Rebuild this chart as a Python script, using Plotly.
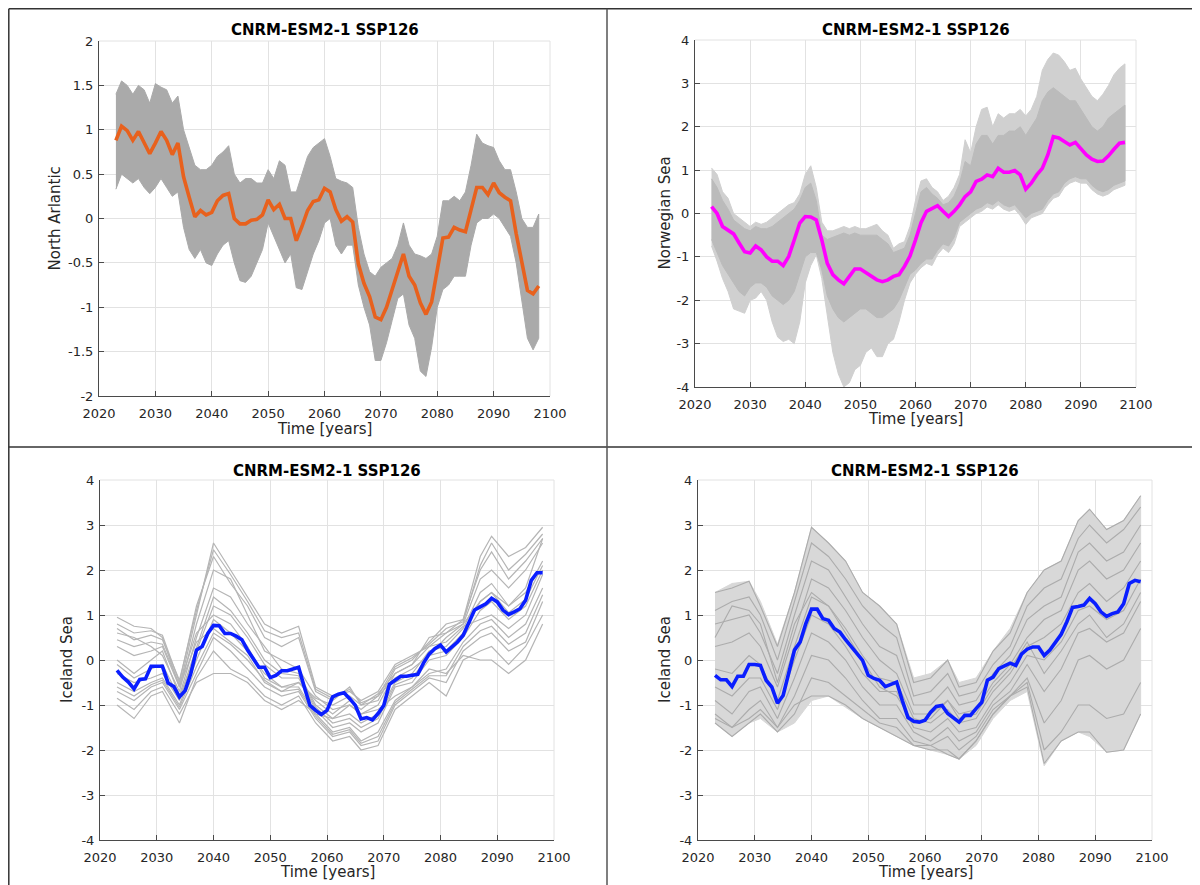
import plotly.graph_objects as go

# ---------------- data ----------------
years = list(range(2023, 2099))
x_ticks = [2020, 2030, 2040, 2050, 2060, 2070, 2080, 2090, 2100]
x_ticktext = ["2020", "2030", "2040", "2050", "2060", "2070", "2080", "2090", "2100"]
y_ticks_na = [-2, -1.5, -1, -0.5, 0, 0.5, 1, 1.5, 2]
y_ticktext_na = ["-2", "-1.5", "-1", "-0.5", "0", "0.5", "1", "1.5", "2"]
y_ticks_4 = [-4, -3, -2, -1, 0, 1, 2, 3, 4]
y_ticktext_4 = ["-4", "-3", "-2", "-1", "0", "1", "2", "3", "4"]

title_text = "CNRM-ESM2-1 SSP126"
x_label = "Time [years]"
y_labels = ["North Arlantic", "Norwegian Sea", "Iceland Sea", "Iceland Sea"]

# North Atlantic (top-left)
na_mean = [0.88, 1.04, 0.99, 0.88, 0.98, 0.86, 0.73, 0.85, 0.98, 0.88,
           0.72, 0.85, 0.47, 0.24, 0.02, 0.09, 0.04, 0.07, 0.2, 0.26,
           0.28, 0.0, -0.06, -0.06, -0.02, -0.01, 0.04, 0.21, 0.10, 0.16,
           0.0, 0.0, -0.25, -0.09, 0.09, 0.19, 0.21, 0.34, 0.30, 0.10,
           -0.03, 0.02, -0.04, -0.51, -0.73, -0.88, -1.11, -1.14, -1.0, -0.8,
           -0.6, -0.4, -0.65, -0.75, -0.95, -1.08, -0.94, -0.55, -0.22, -0.21,
           -0.1, -0.13, -0.15, 0.1, 0.35, 0.35, 0.27, 0.40, 0.29, 0.24,
           0.2, -0.17, -0.47, -0.81, -0.85, -0.76]
na_hi = [1.4, 1.55, 1.5, 1.4, 1.5, 1.45, 1.3, 1.52, 1.48, 1.45,
         1.3, 1.38, 1.0, 0.8, 0.6, 0.55, 0.55, 0.6, 0.7, 0.75,
         0.82, 0.5, 0.4, 0.45, 0.45, 0.4, 0.4, 0.55, 0.45, 0.65,
         0.6, 0.3, 0.3, 0.5, 0.7, 0.8, 0.85, 0.9, 0.7, 0.45,
         0.42, 0.4, 0.35, -0.1, -0.4, -0.6, -0.65, -0.55, -0.5, -0.45,
         -0.3, -0.05, -0.3, -0.4, -0.42, -0.45, -0.4, -0.2, 0.2, 0.2,
         0.25, 0.2, 0.3, 0.6, 0.95, 0.85, 0.82, 0.8, 0.65, 0.55,
         0.55, 0.3, 0.0, -0.1, -0.1, 0.05]
na_lo = [0.33, 0.5, 0.45, 0.4, 0.45, 0.35, 0.28, 0.35, 0.45, 0.35,
         0.25, 0.3, -0.1, -0.35, -0.45, -0.35, -0.5, -0.53, -0.4, -0.3,
         -0.25, -0.5, -0.7, -0.72, -0.65, -0.5, -0.35, -0.05, -0.2, -0.35,
         -0.5, -0.4, -0.78, -0.8, -0.6, -0.4, -0.25, -0.05, 0.0, -0.3,
         -0.4, -0.3, -0.3, -0.75, -1.0, -1.2, -1.6, -1.6, -1.4, -1.15,
         -0.9, -0.85, -1.2, -1.35, -1.72, -1.78, -1.45, -1.0, -0.8, -0.75,
         -0.65, -0.65, -0.65, -0.3, -0.05, 0.0, 0.0, 0.05, 0.0, -0.1,
         -0.2, -0.5, -0.9, -1.35, -1.48, -1.35]

# Norwegian Sea (top-right)
ns_mean = [0.16, 0.0, -0.3, -0.39, -0.47, -0.68, -0.88, -0.91, -0.75, -0.84,
           -1.0, -1.1, -1.1, -1.2, -0.99, -0.61, -0.22, -0.07, -0.08, -0.15,
           -0.61, -1.15, -1.41, -1.53, -1.62, -1.45, -1.28, -1.28, -1.36, -1.44,
           -1.53, -1.57, -1.53, -1.45, -1.41, -1.22, -0.98, -0.61, -0.21, 0.05,
           0.12, 0.18, 0.05, -0.07, 0.05, 0.2, 0.39, 0.5, 0.74, 0.79,
           0.89, 0.85, 1.04, 0.95, 0.95, 0.99, 0.89, 0.56, 0.70, 0.89,
           1.04, 1.35, 1.77, 1.74, 1.66, 1.58, 1.64, 1.48, 1.35, 1.25,
           1.2, 1.21, 1.33, 1.48, 1.62, 1.64]
ns_hi = [1.05, 0.9, 0.5, 0.35, 0.0, -0.1, -0.2, -0.3, -0.2, -0.25,
         -0.2, -0.1, 0.0, 0.1, 0.2, 0.25, 0.45, 0.9, 1.1, 0.6,
         -0.2, -0.4, -0.4, -0.35, -0.3, -0.35, -0.3, -0.35, -0.35, -0.3,
         -0.25, -0.4, -0.5, -0.8, -0.7, -0.65, -0.3, 0.3, 0.75, 0.8,
         0.6, 0.5, 0.3, 0.4, 0.6, 0.9, 1.7, 1.4, 2.0, 2.4,
         2.45, 2.0, 2.3, 2.2, 2.3, 2.3, 2.4, 2.25, 2.4, 2.7,
         3.3, 3.55, 3.7, 3.65, 3.5, 3.3, 3.35, 3.1, 2.9, 2.7,
         2.6, 2.75, 2.95, 3.2, 3.35, 3.45]
ns_lo = [-0.75, -1.1, -1.5, -1.8, -2.2, -2.25, -2.3, -2.0, -1.95, -1.8,
         -2.0, -2.5, -2.85, -2.95, -2.9, -3.0, -2.5, -1.6, -1.2, -0.95,
         -1.5, -2.4, -3.2, -3.7, -4.0, -3.9, -3.6, -3.5, -3.2, -3.1,
         -3.3, -3.3, -3.0, -2.9, -2.5, -2.0, -1.6, -1.4, -1.25, -1.15,
         -1.2, -0.95, -0.8, -0.9, -0.7, -0.3, -0.2, -0.1, 0.0, 0.05,
         0.15, 0.1, 0.2, 0.1, 0.05, 0.1, -0.05, -0.25, -0.1, -0.05,
         0.0, 0.2, 0.35, 0.4, 0.6, 0.7, 0.75, 0.7, 0.7, 0.55,
         0.45, 0.4, 0.45, 0.55, 0.6, 0.65]
ns_hi_dense = [0.8, 0.6, 0.3, 0.1, -0.15, -0.25, -0.35, -0.4, -0.3, -0.35,
               -0.35, -0.3, -0.2, -0.1, 0.0, 0.1, 0.3, 0.6, 0.7, 0.3,
               -0.5, -0.6, -0.55, -0.5, -0.45, -0.5, -0.45, -0.5, -0.5, -0.5,
               -0.5, -0.6, -0.7, -0.9, -0.85, -0.8, -0.5, 0.0, 0.5, 0.6,
               0.45, 0.35, 0.2, 0.25, 0.4, 0.7, 1.2, 1.1, 1.6, 1.8,
               1.8, 1.6, 1.8, 1.8, 1.9, 1.9, 2.0, 1.8, 2.0, 2.2,
               2.6, 2.8, 2.9, 2.8, 2.7, 2.6, 2.6, 2.4, 2.2, 2.0,
               1.9, 2.0, 2.2, 2.3, 2.4, 2.5]
ns_lo_dense = [-0.6, -0.9, -1.2, -1.4, -1.6, -1.8, -1.9, -1.7, -1.6, -1.6,
               -1.7, -1.9, -2.0, -2.1, -2.0, -1.8, -1.4, -1.0, -0.9, -0.9,
               -1.3, -1.9, -2.2, -2.4, -2.5, -2.4, -2.3, -2.2, -2.2, -2.3,
               -2.4, -2.4, -2.3, -2.2, -2.0, -1.7, -1.4, -1.3, -1.15, -1.05,
               -1.05, -0.85, -0.7, -0.75, -0.55, -0.2, -0.1, 0.0, 0.1, 0.15,
               0.25, 0.2, 0.3, 0.2, 0.15, 0.2, 0.05, -0.1, 0.0, 0.05,
               0.1, 0.3, 0.45, 0.5, 0.7, 0.8, 0.85, 0.8, 0.8, 0.65,
               0.55, 0.5, 0.55, 0.65, 0.7, 0.75]

# Iceland Sea, small ensemble (bottom-left)
is1_mean = [-0.23, -0.38, -0.49, -0.64, -0.43, -0.42, -0.14, -0.13, -0.14, -0.51,
            -0.59, -0.82, -0.68, -0.3, 0.22, 0.30, 0.59, 0.77, 0.76, 0.59,
            0.59, 0.53, 0.45, 0.22, 0.04, -0.16, -0.16, -0.39, -0.34, -0.24,
            -0.24, -0.19, -0.16, -0.6, -1.01, -1.12, -1.21, -1.12, -0.82, -0.76,
            -0.73, -0.86, -1.01, -1.31, -1.28, -1.33, -1.19, -1.01, -0.54, -0.45,
            -0.36, -0.36, -0.35, -0.32, -0.07, 0.13, 0.25, 0.33, 0.18, 0.29,
            0.40, 0.55, 0.81, 1.11, 1.18, 1.25, 1.37, 1.29, 1.11, 1.01,
            1.07, 1.14, 1.33, 1.77, 1.94, 1.94]
member_years = [2023, 2026, 2029, 2031, 2034, 2037, 2040, 2043, 2046, 2049, 2052, 2055, 2058, 2061,
                2064, 2066, 2069, 2072, 2075, 2078, 2081, 2084, 2087, 2089, 2092, 2095, 2098]
is1_members = [
    [0.95, 0.75, 0.7, 0.5, -0.6, 1.0, 2.6, 2.0, 1.4, 0.8, 0.6, 0.75, -0.6, -0.8, -0.7, -0.9, -0.7, -0.1, 0.1, 0.3, 0.6, 0.9, 2.3, 2.75, 2.3, 2.5, 2.95],
    [0.8, 0.6, 0.65, 0.55, -0.5, 1.2, 2.3, 1.7, 1.2, 0.5, 0.3, 0.5, -0.7, -0.9, -0.6, -1.0, -0.9, -0.2, 0.0, 0.4, 0.8, 0.9, 2.0, 2.4, 1.8, 2.2, 2.7],
    [0.6, 0.5, 0.3, 0.1, -0.7, 0.8, 2.0, 1.8, 1.0, 0.2, 0.0, -0.2, -0.8, -1.1, -1.0, -1.2, -1.0, -0.3, -0.1, 0.5, 0.6, 0.8, 1.8, 2.0, 1.6, 2.0, 2.6],
    [0.0, -0.3, 0.0, 0.2, -0.8, 0.5, 1.6, 1.4, 0.8, 0.3, -0.2, -0.3, -1.0, -1.3, -1.2, -1.4, -1.2, -0.5, -0.3, 0.2, 0.3, 0.7, 1.5, 1.7, 1.2, 1.5, 2.2],
    [-0.3, -0.5, -0.4, -0.3, -0.9, 0.2, 1.2, 1.0, 0.5, -0.1, -0.4, -0.4, -1.1, -1.5, -1.4, -1.6, -1.4, -0.6, -0.5, 0.0, 0.1, 0.5, 1.1, 1.3, 0.9, 1.2, 2.0],
    [-0.5, -0.7, -0.5, -0.4, -1.0, 0.0, 0.9, 0.6, 0.2, -0.3, -0.6, -0.6, -1.2, -1.6, -1.5, -1.8, -1.6, -0.9, -0.6, -0.3, -0.2, 0.4, 0.8, 0.9, 0.5, 0.8, 1.6],
    [-0.7, -0.9, -0.6, -0.5, -1.1, -0.3, 0.5, 0.2, -0.2, -0.6, -0.8, -0.7, -1.3, -1.7, -1.6, -1.9, -1.8, -1.0, -0.7, -0.4, -0.5, 0.2, 0.5, 0.6, 0.2, 0.4, 1.3],
    [-1.0, -1.3, -0.8, -0.7, -1.4, -0.4, 0.2, -0.2, -0.4, -0.8, -1.0, -0.8, -1.4, -1.8, -1.7, -2.0, -1.9, -1.1, -0.8, -0.5, -0.8, 0.0, 0.2, 0.3, -0.1, 0.3, 1.0],
    [-0.85, -1.1, -0.7, -0.6, -1.2, -0.5, -0.3, -0.3, -0.5, -0.9, -1.1, -0.9, -1.2, -1.3, -1.0, -1.2, -1.1, -0.8, -0.6, -0.2, -0.3, 0.1, 0.0, 0.0, -0.3, 0.0, 0.8],
    [0.3, 0.1, 0.2, 0.3, -0.6, 0.4, 0.7, 0.4, 0.1, -0.5, -0.7, -0.5, -0.9, -1.2, -0.9, -1.1, -0.8, -0.4, -0.2, 0.1, 0.5, 0.8, 1.3, 1.5, 1.2, 1.6, 2.7],
    [0.7, 0.45, 0.55, 0.45, -0.45, 1.1, 2.45, 1.9, 1.3, 0.65, 0.5, 0.6, -0.65, -0.85, -0.65, -0.95, -0.8, -0.15, 0.05, 0.35, 0.7, 0.85, 2.1, 2.6, 2.0, 2.35, 2.8],
    [-0.1, -0.4, -0.2, -0.1, -0.85, 0.3, 1.4, 1.1, 0.6, 0.0, -0.3, -0.35, -1.05, -1.4, -1.3, -1.5, -1.3, -0.55, -0.4, 0.1, 0.2, 0.6, 1.3, 1.5, 1.05, 1.35, 2.1],
    [-0.6, -0.8, -0.55, -0.45, -1.05, -0.15, 0.6, 0.35, 0.0, -0.45, -0.7, -0.65, -1.25, -1.65, -1.55, -1.85, -1.7, -0.95, -0.65, -0.35, -0.35, 0.3, 0.65, 0.75, 0.35, 0.6, 1.45],
    [0.45, 0.3, 0.4, 0.35, -0.55, 0.6, 1.0, 0.8, 0.3, -0.4, -0.6, -0.5, -0.85, -1.0, -0.8, -1.0, -0.75, -0.3, -0.1, 0.3, 0.4, 0.75, 0.9, 1.0, 0.7, 1.0, 1.9],
]

# Iceland Sea, large ensemble (bottom-right)
is2_mean = [-0.34, -0.44, -0.44, -0.59, -0.36, -0.36, -0.1, -0.1, -0.12, -0.45,
            -0.6, -0.96, -0.79, -0.3, 0.22, 0.40, 0.81, 1.13, 1.13, 0.92,
            0.88, 0.70, 0.62, 0.45, 0.29, 0.14, -0.01, -0.34, -0.41, -0.45,
            -0.59, -0.54, -0.49, -0.9, -1.28, -1.36, -1.38, -1.34, -1.16, -1.03,
            -1.01, -1.19, -1.28, -1.38, -1.23, -1.23, -1.08, -0.94, -0.45, -0.38,
            -0.19, -0.12, -0.07, -0.12, 0.13, 0.24, 0.29, 0.29, 0.10, 0.22,
            0.38, 0.57, 0.85, 1.17, 1.19, 1.22, 1.37, 1.25, 1.07, 0.97,
            1.03, 1.07, 1.25, 1.7, 1.77, 1.74]
is2_hi = [1.5, 1.7, 1.75, 1.3, 0.35, 1.5, 2.95, 2.6, 2.2, 1.5, 1.2, 0.8, -0.4, -0.3,
          0.0, -0.5, -0.4, 0.2, 0.7, 1.5, 2.0, 2.2, 3.1, 3.35, 2.9, 3.1, 3.65]
is2_lo = [-1.4, -1.7, -1.4, -1.3, -1.6, -1.4, -0.9, -0.8, -1.05, -1.3, -1.5, -1.7, -1.9, -2.0,
          -2.1, -2.2, -1.9, -1.3, -0.9, -0.7, -2.35, -1.8, -1.6, -1.7, -2.05, -2.0, -1.2]
is2_members = [
    [1.5, 1.6, 1.75, 1.2, 0.3, 1.5, 2.95, 2.6, 2.2, 1.5, 1.2, 0.8, -0.5, -0.4, 0.0, -0.6, -0.5, 0.2, 0.6, 1.5, 2.0, 2.2, 3.1, 3.35, 2.9, 3.1, 3.65],
    [1.1, 1.3, 1.4, 1.0, 0.0, 1.3, 2.6, 2.3, 1.8, 1.2, 0.8, 0.5, -0.8, -0.7, -0.3, -0.8, -0.7, -0.1, 0.3, 1.2, 1.6, 1.8, 2.7, 3.0, 2.6, 2.9, 3.4],
    [0.8, 0.9, 1.0, 0.6, -0.3, 1.0, 2.2, 2.0, 1.4, 0.8, 0.3, 0.1, -1.0, -1.0, -0.6, -1.0, -0.9, -0.3, 0.1, 0.9, 1.2, 1.4, 2.4, 2.6, 2.2, 2.4, 3.0],
    [0.3, 0.4, 0.6, 0.3, -0.6, 0.6, 1.8, 1.6, 1.1, 0.5, 0.0, -0.3, -1.2, -1.2, -0.9, -1.2, -1.1, -0.5, -0.1, 0.5, 0.9, 1.1, 2.0, 2.2, 1.8, 2.0, 2.6],
    [-0.2, -0.3, 0.1, -0.1, -0.9, 0.3, 1.4, 1.2, 0.7, 0.1, -0.4, -0.5, -1.3, -1.4, -1.1, -1.4, -1.3, -0.7, -0.3, 0.3, 0.5, 0.8, 1.5, 1.7, 1.3, 1.6, 2.2],
    [-0.6, -0.8, -0.4, -0.4, -1.1, 0.0, 1.0, 0.8, 0.3, -0.3, -0.7, -0.7, -1.5, -1.6, -1.3, -1.6, -1.5, -0.9, -0.5, 0.1, 0.0, 0.4, 1.1, 1.2, 0.9, 1.1, 1.8],
    [-0.9, -1.2, -0.7, -0.6, -1.3, -0.4, 0.6, 0.4, 0.0, -0.6, -1.0, -1.0, -1.6, -1.8, -1.5, -1.8, -1.6, -1.0, -0.7, -0.1, -0.7, -0.2, 0.6, 0.7, 0.4, 0.6, 1.3],
    [-1.2, -1.5, -1.1, -0.9, -1.5, -0.8, 0.1, 0.0, -0.4, -0.9, -1.3, -1.3, -1.8, -1.9, -1.7, -2.0, -1.7, -1.1, -0.8, -0.4, -1.4, -0.9, 0.0, 0.1, -0.2, 0.0, 0.7],
    [-1.4, -1.7, -1.4, -1.2, -1.6, -1.2, -0.4, -0.5, -0.8, -1.1, -1.4, -1.5, -1.9, -2.0, -2.0, -2.2, -1.8, -1.2, -0.8, -0.5, -2.0, -1.6, -1.0, -1.0, -1.3, -1.2, -0.5],
    [-1.3, -1.5, -1.3, -1.1, -1.5, -1.0, -0.8, -0.8, -1.0, -1.3, -1.5, -1.7, -1.9, -1.9, -2.1, -2.2, -1.8, -1.2, -0.8, -0.6, -2.3, -1.8, -1.6, -1.6, -2.05, -2.0, -1.2],
    [0.5, 1.2, 1.1, 0.8, -0.5, 0.8, 1.5, 1.2, 0.6, 0.0, -0.6, -0.8, -1.4, -1.3, -0.9, -1.3, -1.2, -0.6, -0.2, 0.4, -0.3, 0.2, 0.8, 1.0, 0.5, 0.8, 1.5],
]

# ---------------- figure ----------------
W, H = 1200, 885
OFF = 8  # page body margin: figure pixel = screen pixel - OFF
FONT = "DejaVu Sans"
TXT = "#262626"
AXC = "#4a4a4a"
GRID = "#e2e2e2"

# plot areas in screen pixels: (x_left, x_right, y_top, y_bottom)
boxes = [(99, 550, 41, 396), (695, 1136, 40, 387), (100, 554, 480, 840), (698, 1152, 480, 840)]
title_y = [30, 30, 471, 471]
xlabel_y = [429, 419, 872, 872]
ylabel_x = [54, 664, 67, 665]
MEAN_W = 3.6


def px(v):
    return (v - OFF) / W


def py(v):
    return 1 - (v - OFF) / H


fig = go.Figure()


def ax_names(i):
    return ("x" if i == 0 else f"x{i+1}", "y" if i == 0 else f"y{i+1}")


def band(i, xs, hi, lo, color):
    xa, ya = ax_names(i)
    fig.add_trace(go.Scatter(x=list(xs) + list(xs)[::-1], y=list(hi) + list(lo)[::-1],
                             fill="toself", fillcolor=color, mode="lines",
                             line=dict(color=color, width=1), xaxis=xa, yaxis=ya,
                             hoverinfo="skip", showlegend=False))


def line(i, xs, ys, color, width):
    xa, ya = ax_names(i)
    fig.add_trace(go.Scatter(x=xs, y=ys, mode="lines", line=dict(color=color, width=width),
                             xaxis=xa, yaxis=ya, hoverinfo="skip", showlegend=False))


# top-left
band(0, years, na_hi, na_lo, "#aaaaaa")
line(0, years, na_mean, "#e8611d", MEAN_W)
# top-right
band(1, years, ns_hi, ns_lo, "#d0d0d0")
band(1, years, ns_hi_dense, ns_lo_dense, "#bbbbbb")
line(1, years, ns_mean, "#ff00ff", MEAN_W)
# bottom-left
for m in is1_members:
    line(2, member_years, m, "#b5b5b5", 1.2)
line(2, years, is1_mean, "#0a1eff", MEAN_W)
# bottom-right
band(3, member_years, is2_hi, is2_lo, "#d8d8d8")
for m in is2_members:
    line(3, member_years, m, "#acacac", 1.1)
line(3, years, is2_mean, "#0a1eff", MEAN_W)

layout = dict(width=W, height=H, margin=dict(l=0, r=0, t=0, b=0), autosize=False,
              paper_bgcolor="white", plot_bgcolor="white", showlegend=False,
              font=dict(family=FONT, size=13, color=TXT))

annotations = []
shapes = []
for i, (xl, xr, yt, yb) in enumerate(boxes):
    sfx = "" if i == 0 else str(i + 1)
    xa_key, ya_key = "xaxis" + sfx, "yaxis" + sfx
    if i == 0:
        yv, yt_txt, yr = y_ticks_na, y_ticktext_na, [-2, 2]
    else:
        yv, yt_txt, yr = y_ticks_4, y_ticktext_4, [-4, 4]
    common = dict(showline=True, linecolor=AXC, linewidth=1, ticks="inside", ticklen=5,
                  tickcolor=AXC, tickwidth=1, showgrid=True, gridcolor=GRID, gridwidth=1,
                  zeroline=False, automargin=False, tickfont=dict(family=FONT, size=13, color=TXT),
                  fixedrange=True)
    layout[xa_key] = dict(domain=[px(xl), px(xr)], range=[2020, 2100], tickmode="array",
                          tickvals=x_ticks, ticktext=x_ticktext, anchor="y" + sfx,
                          ticklabelstandoff=5, **common)
    layout[ya_key] = dict(domain=[py(yb), py(yt)], range=yr, tickmode="array",
                          tickvals=yv, ticktext=yt_txt, anchor="x" + sfx,
                          ticklabelstandoff=2, **common)
    cx = px((xl + xr) / 2)
    annotations.append(dict(text="<b>" + title_text + "</b>", x=cx, y=py(title_y[i]),
                            xref="paper", yref="paper", showarrow=False, xanchor="center",
                            yanchor="middle", font=dict(family=FONT, size=15, color="#000000")))
    annotations.append(dict(text=x_label, x=cx, y=py(xlabel_y[i]), xref="paper", yref="paper",
                            showarrow=False, xanchor="center", yanchor="middle",
                            font=dict(family=FONT, size=15, color=TXT)))
    annotations.append(dict(text=y_labels[i], x=px(ylabel_x[i]), y=py((yt + yb) / 2),
                            xref="paper", yref="paper", showarrow=False, textangle=-90,
                            xanchor="center", yanchor="middle",
                            font=dict(family=FONT, size=15, color=TXT)))
    # light top and right edges of each axes box
    shapes.append(dict(type="line", xref="x" + sfx + " domain", yref="y" + sfx + " domain",
                       x0=0, x1=1, y0=1, y1=1, line=dict(color=GRID, width=1), layer="below"))
    shapes.append(dict(type="line", xref="x" + sfx + " domain", yref="y" + sfx + " domain",
                       x0=1, x1=1, y0=0, y1=1, line=dict(color=GRID, width=1), layer="below"))

# panel frame lines
FR = "#333333"
shapes += [
    dict(type="line", xref="paper", yref="paper", x0=0.8 / W, x1=0.8 / W, y0=0, y1=1 - 0.8 / H,
         line=dict(color=FR, width=1.5)),
    dict(type="line", xref="paper", yref="paper", x0=0.8 / W, x1=1, y0=1 - 0.8 / H, y1=1 - 0.8 / H,
         line=dict(color=FR, width=1.5)),
    dict(type="line", xref="paper", yref="paper", x0=0.8 / W, x1=1, y0=py(447), y1=py(447),
         line=dict(color=FR, width=1.5)),
    dict(type="line", xref="paper", yref="paper", x0=px(607), x1=px(607), y0=0, y1=1 - 0.8 / H,
         line=dict(color="#555555", width=1.5)),
]
layout["annotations"] = annotations
layout["shapes"] = shapes
fig.update_layout(**layout)
fig.write_html("out.html")
